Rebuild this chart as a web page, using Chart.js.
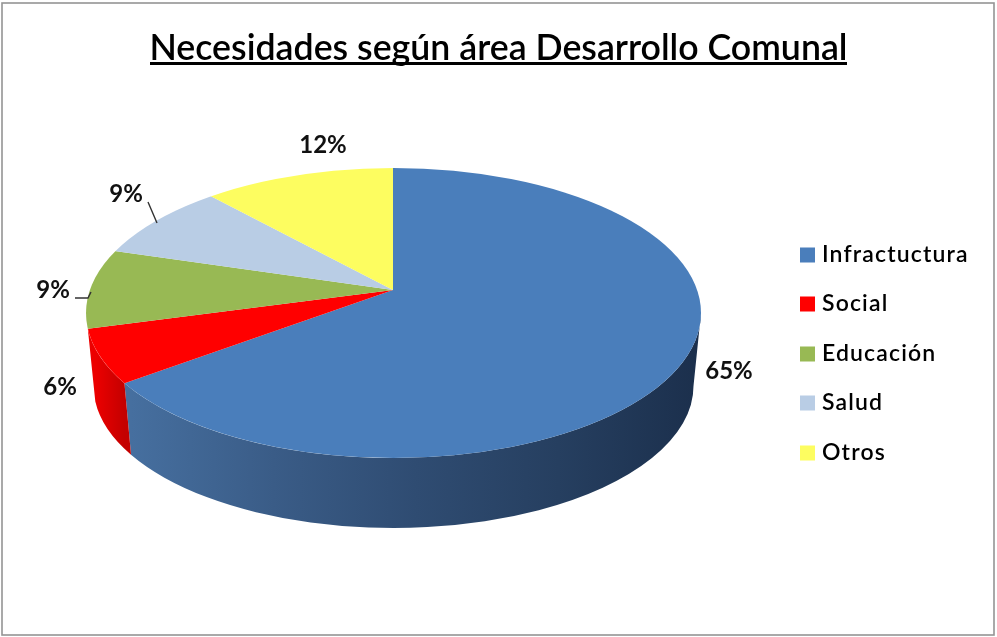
<!DOCTYPE html>
<html>
<head>
<meta charset="utf-8">
<style>
  html, body { margin: 0; padding: 0; background: #fff; }
  canvas { display: block; }
</style>
<script src="https://cdn.jsdelivr.net/npm/chart.js@4"></script>
</head>
<body>
<canvas id="pie3d" width="997" height="637"></canvas>
<script>
const categories = ['Infractuctura', 'Social', 'Educación', 'Salud', 'Otros'];
const values = [64.9, 5.9, 8.8, 8.6, 11.8];
const sliceColors = ['#4a7ebb', '#ff0000', '#98b954', '#b9cde5', '#fdfd60'];
const titleText = 'Necesidades según área Desarrollo Comunal';

// where the percent labels sit, same order as values
const labelX = [729, 60, 53, 126, 323];
const labelY = [371, 387, 290, 194, 145];

// legend rows
const legendRowY = [255, 304, 354, 403, 453];

// perspective: top face ellipse, bottom edge ellipse, and the point the slices meet
const top3d = { cx: 393.5, cy: 313, rx: 307.5, ry: 145 };
const bottom3d = { cx: 393.5, cy: 386, rx: 300, ry: 142 };
const apex = { x: 393, y: 290 };
const squash = top3d.ry / top3d.rx;
const faceRadius = 370;

const wallStops = [
  [[0, '#466f9f'], [0.25, '#3a5c87'], [0.5, '#2f4c72'], [0.75, '#263f60'], [1, '#1b2f4c']],
  [[0, '#ec0000'], [1, '#c40000']]
];

// param of the top ellipse where a slice edge (canvas angle) hits the rim
function rimParam(angle) {
  const ox = (apex.x - top3d.cx) / top3d.rx;
  const oy = (apex.y - top3d.cy) / top3d.ry;
  const dx = Math.cos(angle) / top3d.rx;
  const dy = squash * Math.sin(angle) / top3d.ry;
  const a = dx * dx + dy * dy;
  const b = 2 * (ox * dx + oy * dy);
  const c = ox * ox + oy * oy - 1;
  const u = (-b + Math.sqrt(b * b - 4 * a * c)) / (2 * a);
  const t = Math.atan2(oy + u * dy, ox + u * dx);
  return t < 0 ? t + Math.PI * 2 : t;
}

const pie3dPlugin = {
  id: 'pie3d',
  beforeDraw(chart) {
    const ctx = chart.ctx;
    ctx.save();
    ctx.fillStyle = '#fff';
    ctx.fillRect(0, 0, chart.width, chart.height);
    ctx.strokeStyle = '#949494';
    ctx.lineWidth = 1.6;
    ctx.strokeRect(2, 3, 992, 632);
    ctx.restore();
  },
  beforeDatasetsDraw(chart) {
    const ctx = chart.ctx;
    const arcs = chart.getDatasetMeta(0).data;

    // side walls, only the ones facing the viewer
    arcs.forEach((arc, i) => {
      if (!wallStops[i]) return;
      let ts = rimParam(arc.startAngle);
      const te = rimParam(arc.endAngle);
      if (ts > te) ts = 0;
      const x0 = bottom3d.cx + bottom3d.rx * Math.cos(te);
      const x1 = bottom3d.cx + top3d.rx * Math.cos(ts);
      const grad = ctx.createLinearGradient(Math.min(x0, x1), 0, Math.max(x0, x1), 0);
      wallStops[i].forEach(s => grad.addColorStop(s[0], s[1]));
      ctx.beginPath();
      ctx.ellipse(top3d.cx, top3d.cy, top3d.rx, top3d.ry, 0, ts, te);
      ctx.ellipse(bottom3d.cx, bottom3d.cy, bottom3d.rx, bottom3d.ry, 0, te, ts, true);
      ctx.closePath();
      ctx.fillStyle = grad;
      ctx.fill();
    });

    // top face: the library's arcs, squashed and clipped to the rim
    const arc = arcs[0];
    const s = faceRadius / arc.outerRadius;
    ctx.save();
    ctx.beginPath();
    ctx.ellipse(top3d.cx, top3d.cy, top3d.rx, top3d.ry, 0, 0, Math.PI * 2);
    ctx.clip();
    ctx.translate(apex.x, apex.y);
    ctx.scale(s, s * squash);
    ctx.translate(-arc.x, -arc.y);
  },
  afterDatasetsDraw(chart) {
    chart.ctx.restore();
  },
  afterDraw(chart) {
    const ctx = chart.ctx;
    ctx.save();

    // underline of the title
    ctx.fillStyle = '#000';
    ctx.fillRect(150, 62, 697, 3);

    // leader lines
    ctx.strokeStyle = '#333';
    ctx.lineWidth = 1.4;
    ctx.beginPath();
    ctx.moveTo(148, 202);
    ctx.lineTo(157, 223);
    ctx.moveTo(75, 298);
    ctx.lineTo(88, 298);
    ctx.lineTo(91, 292);
    ctx.stroke();

    // percent labels
    ctx.fillStyle = '#111';
    ctx.font = 'bold 24px Lato';
    ctx.textAlign = 'center';
    ctx.textBaseline = 'middle';
    values.forEach((v, i) => ctx.fillText(Math.round(v) + '%', labelX[i], labelY[i]));

    // legend
    ctx.font = '600 23px Lato';
    ctx.letterSpacing = '1.15px';
    ctx.textAlign = 'left';
    categories.forEach((name, i) => {
      ctx.fillStyle = sliceColors[i];
      ctx.fillRect(800, legendRowY[i] - 7.5, 15, 15);
      ctx.fillStyle = '#000';
      ctx.fillText(name, 822, legendRowY[i]);
    });
    ctx.restore();
  }
};

new Chart(document.getElementById('pie3d'), {
  type: 'pie',
  data: {
    labels: categories,
    datasets: [{
      data: values,
      backgroundColor: sliceColors,
      borderWidth: 0,
      clip: false
    }]
  },
  options: {
    responsive: false,
    animation: false,
    plugins: {
      title: {
        display: true,
        text: titleText,
        color: '#000',
        font: { family: 'Lato', size: 35.7, weight: '600' },
        padding: { top: 27, bottom: 10 }
      },
      legend: { display: false },
      tooltip: { enabled: false }
    }
  },
  plugins: [pie3dPlugin]
});
</script>
</body>
</html>
